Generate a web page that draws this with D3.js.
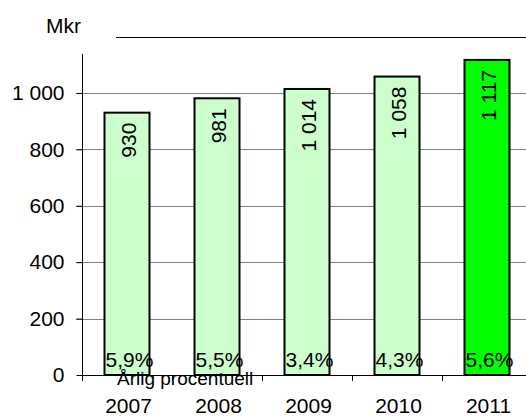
<!DOCTYPE html>
<html><head><meta charset="utf-8">
<script src="https://cdn.jsdelivr.net/npm/d3@7"></script>
<style>body{margin:0;background:#fff}svg{display:block}text{font-family:Arial,"Liberation Sans",sans-serif;fill:#000}</style>
</head><body>
<svg id="c" width="526" height="418"></svg>
<script>
const years = ["2007","2008","2009","2010","2011"];
const values = [930, 981, 1014, 1058, 1117];
const growth = ["5,9%","5,5%","3,4%","4,3%","5,6%"];
const valueLabels = ["930","981","1 014","1 058","1 117"];
const yTicks = [0,200,400,600,800,1000];
const colors = ["#ccffcc","#ccffcc","#ccffcc","#ccffcc","#00ff00"];

const svg = d3.select("#c");
const x = d3.scaleBand().domain(years).range([82, 532]).paddingInner(0.5).paddingOuter(0.25);
const y = d3.scaleLinear().domain([0, 1138]).range([375, 54]);
const fmt = d => d >= 1000 ? d3.format(",")(d).replace(",", " ") : String(d);
const FS = 21;

// gridlines
svg.append("g").selectAll("line").data(yTicks.filter(d=>d>0)).join("line")
  .attr("x1", 76).attr("x2", 526).attr("y1", d=>Math.round(y(d))+0.5).attr("y2", d=>Math.round(y(d))+0.5)
  .attr("stroke", "#808080").attr("stroke-width", 1);

// y axis
const ya = svg.append("g").attr("transform","translate(82.5,0)")
  .call(d3.axisLeft(y).tickValues(yTicks).tickFormat(fmt).tickSize(6).tickPadding(12));
ya.select(".domain").attr("d", `M0,${y.range()[1]}V${y(0)}`).attr("stroke","#000");
ya.selectAll(".tick line").attr("stroke","#000");
ya.selectAll("text").attr("font-size", FS).attr("font-family","Arial, 'Liberation Sans', sans-serif").attr("fill","#000");

// bars
svg.append("g").selectAll("rect").data(years).join("rect")
  .attr("x", d=>x(d)).attr("width", x.bandwidth())
  .attr("y", (d,i)=>y(values[i])).attr("height", (d,i)=>y(0)-y(values[i]))
  .attr("fill", (d,i)=>colors[i]).attr("stroke","#000").attr("stroke-width",2);

// x axis
svg.append("line").attr("x1",82).attr("x2",526).attr("y1",375.5).attr("y2",375.5).attr("stroke","#000");
const bounds = years.map((d,i)=>82 + i*90).concat([82+5*90]);
svg.append("g").selectAll("line").data(bounds).join("line")
  .attr("x1",d=>d+0.5).attr("x2",d=>d+0.5).attr("y1",375).attr("y2",381).attr("stroke","#000");

// year labels
svg.append("g").selectAll("text").data(years).join("text")
  .attr("x", d=>x(d)+x.bandwidth()/2+1.5).attr("y", 413).attr("text-anchor","middle")
  .attr("font-size",FS).text(d=>d);

// value labels rotated
svg.append("g").selectAll("text").data(years).join("text")
  .attr("transform",(d,i)=>`translate(${x(d)+x.bandwidth()/2+9},${y(values[i])+10}) rotate(-90)`)
  .attr("text-anchor","end").attr("font-size",FS).text((d,i)=>valueLabels[i]);

// growth labels
svg.append("g").selectAll("text").data(years).join("text")
  .attr("x", d=>x(d)+x.bandwidth()/2+2.5).attr("y", 367).attr("text-anchor","middle")
  .attr("font-size",FS).text((d,i)=>growth[i]);

svg.append("text").attr("x",117).attr("y",385).attr("font-size",19).text("Årlig procentuell");
svg.append("text").attr("x",46).attr("y",33).attr("font-size",FS).text("Mkr");
svg.append("line").attr("x1",116).attr("x2",526).attr("y1",37.5).attr("y2",37.5).attr("stroke","#000");
</script>
</body></html>
